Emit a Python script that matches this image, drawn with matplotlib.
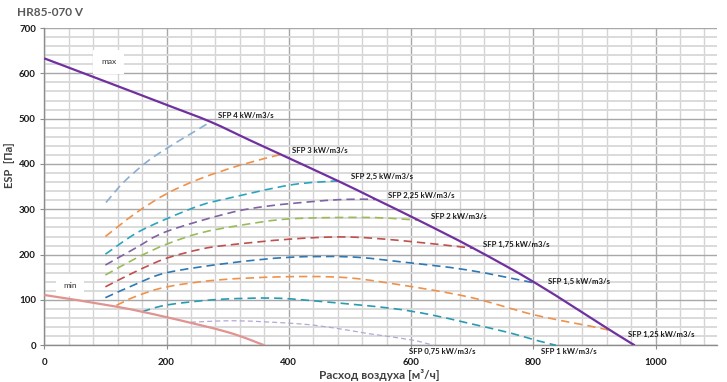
import matplotlib
matplotlib.use("Agg")
import matplotlib.pyplot as plt
from matplotlib.ticker import MultipleLocator
from matplotlib.path import Path
from matplotlib.patches import PathPatch

plt.rcParams['font.family'] = ['Lato', 'DejaVu Sans']

title = "HR85-070 V"
x_label = "Расход воздуха [м³/ч]"
y_label = "ESP  [Па]"

max_x = [0, 100, 201, 272, 337, 387, 483, 541, 612, 702, 804, 932, 966]
max_y = [633, 582, 530, 493, 452, 421, 361, 323, 276, 214, 137, 28, 0]

min_x = [0, 119, 200, 300, 360]
min_y = [111, 85, 62, 29, 0]

sfp_names = ["SFP 4 kW/m3/s", "SFP 3 kW/m3/s", "SFP 2,5 kW/m3/s", "SFP 2,25 kW/m3/s",
             "SFP 2 kW/m3/s", "SFP 1,75 kW/m3/s", "SFP 1,5 kW/m3/s", "SFP 1,25 kW/m3/s",
             "SFP 1 kW/m3/s", "SFP 0,75 kW/m3/s"]

sfp4_x = [101, 130, 168, 201, 240, 272]
sfp4_y = [315, 360, 405, 435, 467, 493]
sfp3_x = [100, 150, 201, 256, 322, 387]
sfp3_y = [240, 292, 335, 368, 398, 421]
sfp25_x = [100, 150, 200, 256, 300, 404, 483]
sfp25_y = [201, 247, 279, 309, 324, 354, 363]
sfp225_x = [100, 150, 200, 300, 365, 447, 496, 541]
sfp225_y = [177, 215, 251, 291, 307, 318, 322, 322]
sfp2_x = [100, 150, 200, 256, 322, 403, 529, 612]
sfp2_y = [155, 192, 223, 248, 265, 279, 282, 276]
sfp175_x = [100, 150, 200, 256, 300, 400, 492, 584, 702]
sfp175_y = [129, 163, 192, 212, 221, 234, 239, 231, 214]
sfp15_x = [100, 150, 200, 300, 400, 500, 584, 693, 804]
sfp15_y = [105, 135, 160, 181, 194, 195, 184, 166, 137]
sfp125_x = [118, 150, 201, 283, 387, 485, 565, 693, 802, 912, 932]
sfp125_y = [88, 108, 129, 144, 151, 150, 137, 107, 67, 37, 28]
sfp1_x = [160, 201, 283, 376, 458, 565, 630, 693, 760, 802, 837]
sfp1_y = [74, 89, 101, 104, 96, 82, 68, 49, 28, 12, 0]
sfp075_x = [240, 316, 420, 480, 529, 600, 637]
sfp075_y = [51, 54, 47, 37, 26, 12, 0]

sfp_series = [(sfp4_x, sfp4_y), (sfp3_x, sfp3_y), (sfp25_x, sfp25_y), (sfp225_x, sfp225_y),
              (sfp2_x, sfp2_y), (sfp175_x, sfp175_y), (sfp15_x, sfp15_y), (sfp125_x, sfp125_y),
              (sfp1_x, sfp1_y), (sfp075_x, sfp075_y)]
sfp_colors = ['#8AAED4', '#F0914A', '#2AA5BE', '#8064A2', '#9BBB59', '#C0504D',
              '#2E78B4', '#F0914A', '#2A9BB0', '#B4A7D6']
# label offsets in pixels from the curve end
label_offsets = [(7, 6), (11, 4), (11, 4), (13, 4), (13, 4), (10, 4), (12, 2), (14, -2),
                 (-15, -6), (-25, -6)]


def smooth_path(xs, ys):
    """Excel-like smoothed line: Catmull-Rom through the points as cubic Beziers."""
    pts = list(zip(xs, ys))
    verts = [pts[0]]
    codes = [Path.MOVETO]
    n = len(pts)
    for i in range(n - 1):
        p0 = pts[i - 1] if i > 0 else pts[i]
        p1 = pts[i]
        p2 = pts[i + 1]
        p3 = pts[i + 2] if i + 2 < n else pts[i + 1]
        c1 = (p1[0] + (p2[0] - p0[0]) / 6.0, p1[1] + (p2[1] - p0[1]) / 6.0)
        c2 = (p2[0] - (p3[0] - p1[0]) / 6.0, p2[1] - (p3[1] - p1[1]) / 6.0)
        verts += [c1, c2, p2]
        codes += [Path.CURVE4] * 3
    return Path(verts, codes)


fig = plt.figure(figsize=(7.27, 3.82), dpi=100)
ax = fig.add_axes([0.0609, 0.0961, 0.9249, 0.8306])

ax.set_xlim(0, 1100)
ax.set_ylim(0, 700)
ax.xaxis.set_major_locator(MultipleLocator(200))
ax.xaxis.set_minor_locator(MultipleLocator(40))
ax.yaxis.set_major_locator(MultipleLocator(100))
ax.yaxis.set_minor_locator(MultipleLocator(20))
ax.set_xticks([0, 200, 400, 600, 800, 1000])

ax.grid(which='minor', axis='y', color='#DADADA', linewidth=1.4, zorder=0)
ax.grid(which='minor', axis='x', color='#D4D4D4', linewidth=1.0, zorder=0)
ax.grid(which='major', color='#A8A8A8', linewidth=1.0, zorder=0)
ax.set_axisbelow(True)

for s in ['top', 'right']:
    ax.spines[s].set_visible(False)
for s in ['left', 'bottom']:
    ax.spines[s].set_color('#8C8C8C')
    ax.spines[s].set_linewidth(1.0)

ax.tick_params(axis='both', which='major', labelsize=7, colors='#8C8C8C', length=3,
               labelcolor='#1A1A1A')
ax.tick_params(axis='x', which='major', length=3, pad=6)
ax.tick_params(axis='y', which='major', pad=3)
ax.tick_params(which='minor', length=0)
for lab in ax.get_xticklabels() + ax.get_yticklabels():
    lab.set_fontweight('bold')

# SFP curves
for i, ((xs, ys), c) in enumerate(zip(sfp_series, sfp_colors)):
    lw = 0.9 if i == 9 else 1.2
    dashes = (4, 2.5) if i == 9 else (5, 3)
    patch = PathPatch(smooth_path(xs, ys), facecolor='none', edgecolor=c, linewidth=lw,
                      linestyle=(0, dashes), zorder=3, clip_on=False, capstyle='butt')
    ax.add_patch(patch)
    ax.annotate(sfp_names[i], xy=(xs[-1], ys[-1]), xytext=label_offsets[i],
                textcoords='offset pixels', fontsize=5.6, fontweight='bold',
                color='#1A1A1A', ha='left', va='center', annotation_clip=False, zorder=5)

# max / min lines
ax.add_patch(PathPatch(smooth_path(max_x, max_y), facecolor='none', edgecolor='#7030A0',
                       linewidth=1.6, zorder=4, capstyle='butt'))
ax.add_patch(PathPatch(smooth_path(min_x, min_y), facecolor='none', edgecolor='#E0938F',
                       linewidth=1.6, zorder=4, capstyle='butt'))

ax.text(105, 625, "max", fontsize=6, color='#333333', ha='center', va='center', zorder=2,
        bbox=dict(boxstyle='square,pad=1.0', facecolor='white', edgecolor='none'))
ax.text(42, 133, "min", fontsize=6, color='#333333', ha='center', va='center', zorder=2,
        bbox=dict(boxstyle='square,pad=0.9', facecolor='white', edgecolor='none'))

fig.text(17 / 727, 1 - 12 / 382, title, fontsize=8.5, fontweight='bold', color='#595959',
         ha='left', va='center')
fig.text(379 / 727, 1 - 375 / 382, x_label, fontsize=8.5, fontweight='bold',
         color='#404040', ha='center', va='center')
fig.text(10 / 727, 1 - 165 / 382, y_label, fontsize=8, fontweight='bold',
         color='#404040', ha='center', va='center', rotation=90)

fig.savefig("out.png", dpi=100)
